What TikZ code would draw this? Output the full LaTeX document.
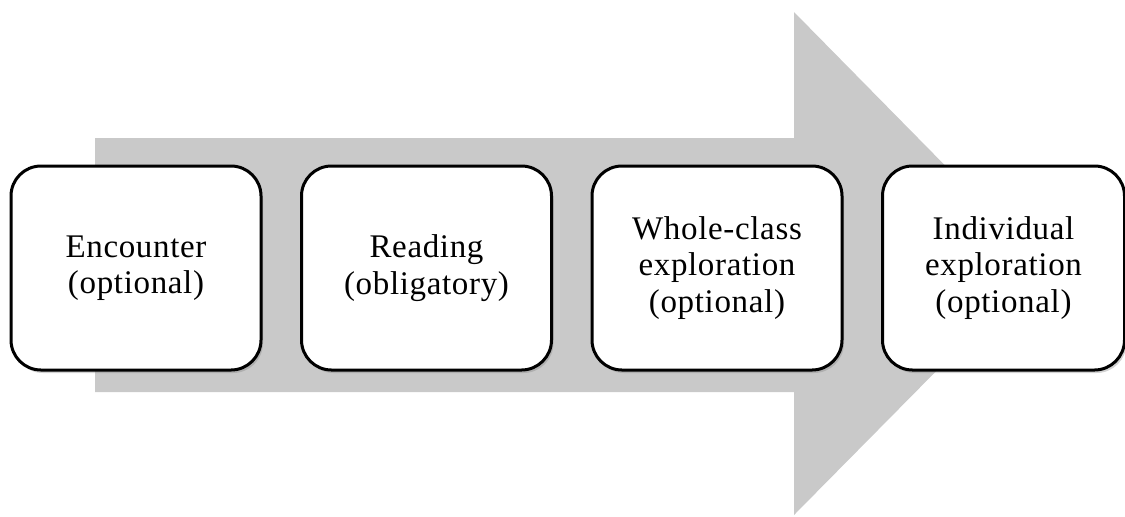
\documentclass[tikz,border=0pt]{standalone}
\usepackage{fontspec}
\setmainfont{Liberation Serif}
\usepackage{tikz}
\usetikzlibrary{positioning,shadows}
\definecolor{arrowgray}{RGB}{201,201,201}

\begin{document}
\begin{tikzpicture}[
	x=0.5pt, y=-0.5pt,
	stage/.style={draw, line width=1.5pt, fill=white, rounded corners=15pt,
		minimum width=125pt, minimum height=102pt, align=center,
		font=\fontsize{16.5}{18.3}\selectfont\addfontfeature{LetterSpace=2},
		drop shadow={opacity=0.35, shadow xshift=1pt, shadow yshift=-1.5pt}},
	node distance=18.75pt,
	]
	
	\useasboundingbox (0,0) rectangle (1125,516);
	
	% Big gray arrow in the background
	\fill[arrowgray] (95,138) -- (794,138) -- (794,12) -- (1042,264)
		-- (794,515) -- (794,392) -- (95,392) -- cycle;
	
	% The four stages
	\node[stage] (encounter) at (136,268) {Encounter\\(optional)};
	\node[stage, right=of encounter] (reading) {Reading\\(obligatory)};
	\node[stage, right=of reading] (whole) {Whole-class\\exploration\\(optional)};
	\node[stage, right=of whole, minimum width=121pt] (individual) {Individual\\exploration\\(optional)};
	
\end{tikzpicture}
\end{document}
